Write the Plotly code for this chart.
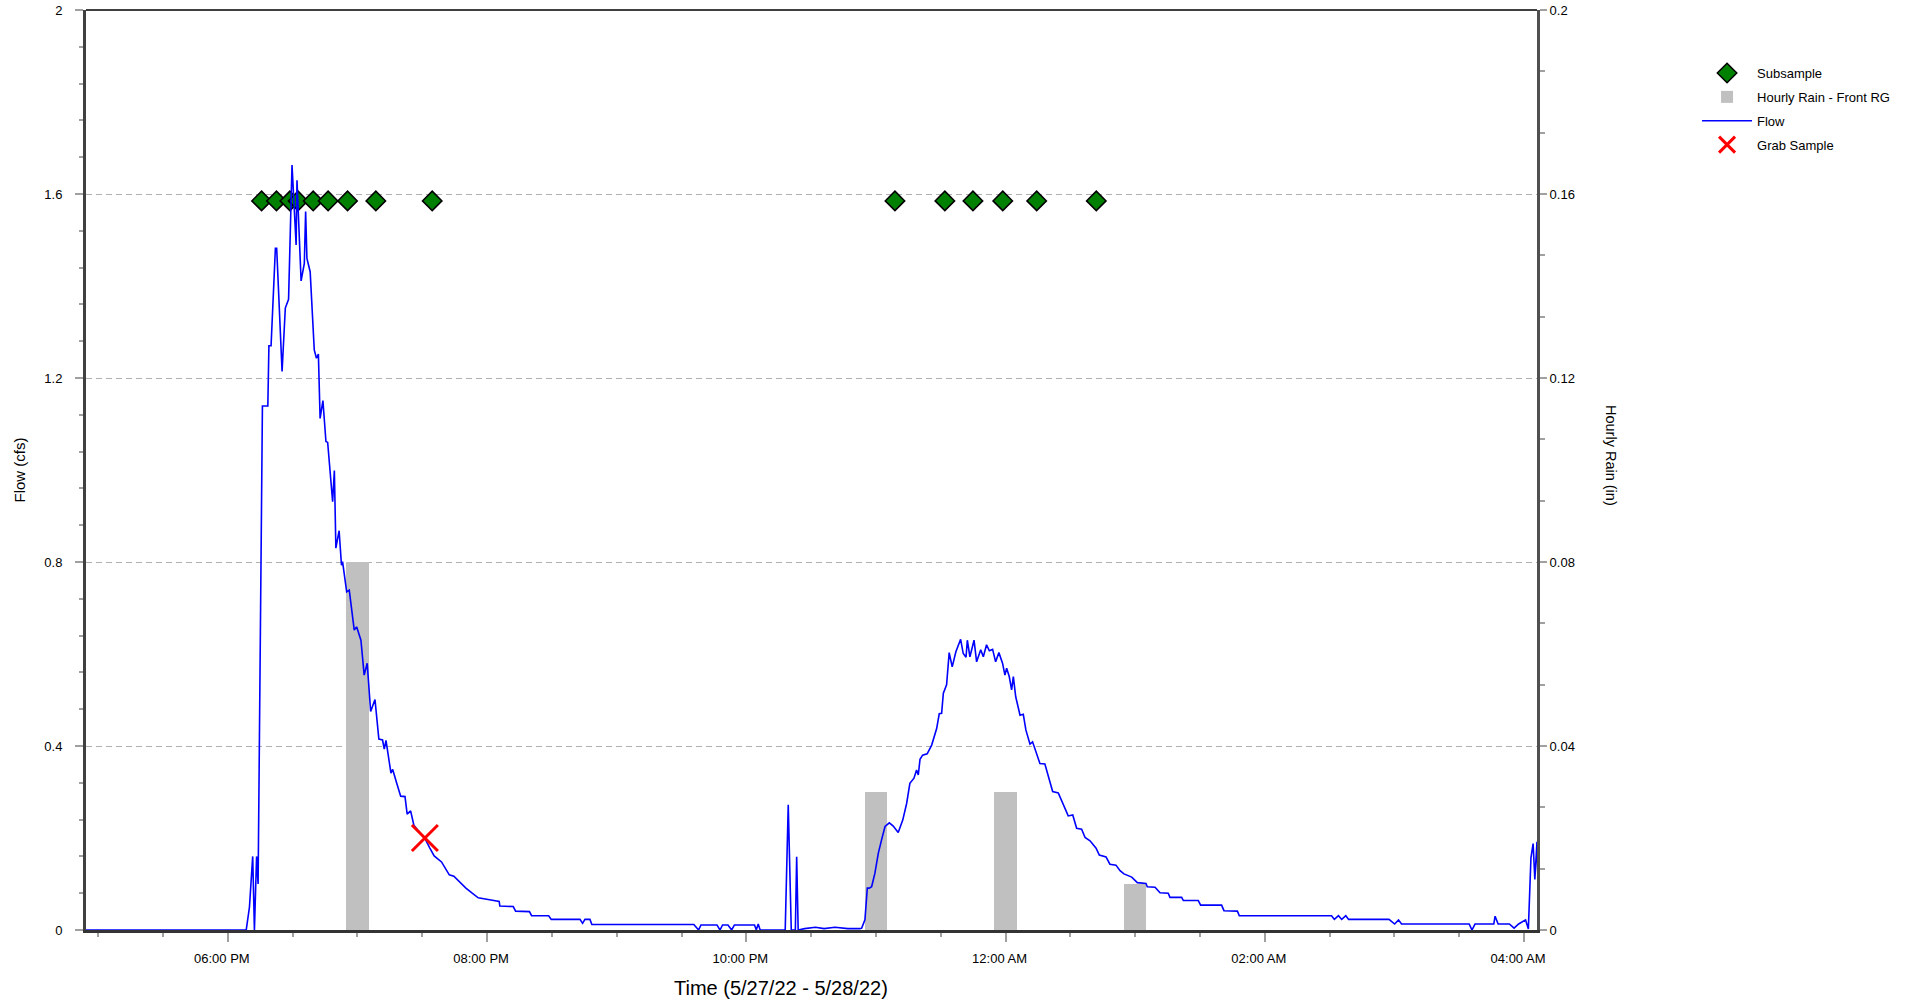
import pandas as pd
import plotly.graph_objects as go

# ---------------- data ----------------
origin = pd.Timestamp("2022-05-27 18:00")

# Flow (cfs) : minutes after 5/27/22 6:00 PM, flow value
flow_minutes = [
    -70, 8.5, 10, 11.5, 12.3, 13.3, 14.0, 16.0, 18.5, 19.0, 20.0, 22.0, 22.6, 25.1, 26.6, 28.1,
    29.7, 31.6, 32.0, 33.9, 35.4, 36.0, 36.6, 38.1, 40.0, 41.0, 41.9, 42.7, 44.0, 45.4, 46.2,
    48.5, 49.3, 50.0, 51.5, 52.6, 53.1, 55.0, 56.2, 58.5, 59.6, 61.6, 63.1, 64.5, 66.1, 68.1,
    69.9, 71.6, 72.4, 73.2, 75.5, 76.3, 78.1, 80.0, 82.0, 83.0, 84.6, 86.1, 88.1, 91.2, 93.5,
    95.5, 98.9, 102.5, 104.6, 107.4, 110.2, 112.8, 115.9, 119.8, 125.6, 125.9, 132.1, 133.2,
    139.6, 140.6, 148.5, 149.7, 163.0, 164.2, 165.3, 167.6, 168.5, 215.7, 217.9, 219.0, 226.4,
    227.8, 229.0, 231.5, 233.2, 234.5, 243.8, 244.6, 245.5, 246.4, 258.0, 259.4, 260.8, 262.7,
    263.3, 264.0, 267.0, 272.0, 276.0, 281.0, 287.0, 292.6, 293.4, 294.9, 296.0, 296.9, 298.0,
    299.5, 301.1, 302.6, 304.2, 306.2, 308.0, 310.3, 312.4, 314.2, 315.7, 317.6, 318.8, 319.6,
    320.4, 321.6, 323.7, 325.8, 328.1, 329.3, 330.4, 331.2, 332.7, 333.9, 335.3, 337.0, 339.2,
    340.4, 341.7, 342.3, 343.5, 345.4, 346.6, 348.5, 349.7, 351.2, 352.5, 354.0, 355.4, 356.9,
    358.6, 359.7, 360.5, 361.7, 362.8, 363.6, 364.7, 366.7, 368.2, 369.4, 371.3, 372.5, 374.4,
    375.9, 378.2, 379.8, 381.8, 384.4, 386.7, 389.0, 391.1, 392.9, 395.2, 396.8, 399.1, 401.9,
    403.4, 406.5, 408.3, 411.1, 413.0, 414.8, 418.4, 421.0, 425.0, 425.6, 429.2, 431.5, 435.3,
    436.1, 441.5, 442.3, 449.2, 450.3, 460.0, 461.1, 467.3, 468.2, 510.9, 512.2, 514.1, 515.6,
    517.5, 518.8, 537.5, 540.1, 541.9, 543.3, 574.6, 575.9, 577.3, 586.0, 586.6, 588.0, 593.2,
    595.4, 597.5, 600.7, 602.0, 603.2, 604.2, 605.0, 606.0, 607.0,
]
flow_cfs = [
    0.0, 0.0, 0.05, 0.16, 0.0, 0.16, 0.10, 1.139, 1.139, 1.27, 1.27, 1.482, 1.482, 1.214, 1.352, 1.371,
    1.663, 1.489, 1.630, 1.411, 1.449, 1.562, 1.460, 1.431, 1.261, 1.243, 1.252, 1.112, 1.151, 1.062, 1.060,
    0.931, 0.999, 0.830, 0.868, 0.793, 0.801, 0.735, 0.739, 0.652, 0.659, 0.630, 0.554, 0.580, 0.475, 0.501,
    0.415, 0.413, 0.393, 0.412, 0.341, 0.349, 0.320, 0.291, 0.290, 0.252, 0.259, 0.228, 0.216, 0.199, 0.178,
    0.161, 0.148, 0.120, 0.117, 0.103, 0.091, 0.081, 0.070, 0.067, 0.062, 0.052, 0.051, 0.041,
    0.040, 0.031, 0.031, 0.023, 0.023, 0.0145, 0.023, 0.023, 0.012, 0.012, 0.0, 0.011, 0.011,
    0.0, 0.011, 0.011, 0.0, 0.011, 0.011, 0.0, 0.013, 0.0, 0.0, 0.272, 0.0, 0.0,
    0.159, 0.0, 0.003, 0.006, 0.003, 0.006, 0.003, 0.003, 0.004, 0.022, 0.091, 0.091, 0.094,
    0.123, 0.167, 0.196, 0.225, 0.233, 0.226, 0.212, 0.239, 0.275, 0.319, 0.330, 0.348, 0.337,
    0.371, 0.380, 0.383, 0.402, 0.438, 0.470, 0.471, 0.515, 0.533, 0.603, 0.572, 0.605, 0.632,
    0.601, 0.593, 0.630, 0.594, 0.630, 0.583, 0.609, 0.594, 0.620, 0.607, 0.610, 0.583, 0.603,
    0.580, 0.554, 0.569, 0.551, 0.522, 0.551, 0.507, 0.467, 0.469, 0.435, 0.404, 0.409, 0.380,
    0.362, 0.361, 0.333, 0.301, 0.298, 0.272, 0.248, 0.250, 0.221, 0.219, 0.201, 0.194, 0.178,
    0.163, 0.159, 0.143, 0.141, 0.129, 0.122, 0.115, 0.103, 0.101, 0.094, 0.093, 0.081, 0.080,
    0.071, 0.071, 0.064, 0.064, 0.054, 0.054, 0.042, 0.041, 0.031, 0.031, 0.023, 0.031, 0.023,
    0.031, 0.023, 0.023, 0.013, 0.022, 0.013, 0.013, 0.0, 0.013, 0.013, 0.030, 0.013, 0.013,
    0.004, 0.013, 0.022, 0.002, 0.157, 0.188, 0.110, 0.192, 0.0,
]

# Hourly rain (in)
rain_times = ["2022-05-27 19:00", "2022-05-27 23:00", "2022-05-28 00:00", "2022-05-28 01:00"]
rain_in = [0.08, 0.03, 0.03, 0.01]

# Subsamples (minutes after 6:00 PM)
subsample_minutes = [15.6, 22.5, 28.7, 32.5, 39.5, 46.4, 55.4, 68.5, 94.6,
                     308.8, 331.9, 344.9, 358.7, 374.4, 402.0]
subsample_flow = [1.585] * len(subsample_minutes)

# Grab sample
grab_minutes = [91.2]
grab_flow = [0.2]

x_start = "2022-05-27 16:54:20"
x_end = "2022-05-28 04:06:00"

# ---------------- figure ----------------
def to_time(mins):
    return [origin + pd.Timedelta(minutes=m) for m in mins]

fig = go.Figure()

fig.add_trace(go.Scatter(
    x=to_time(subsample_minutes), y=subsample_flow, mode="markers", name="Subsample",
    yaxis="y2", legendgroup="a",
    marker=dict(symbol="diamond", size=15, color="#008000", line=dict(color="black", width=1.5)),
))
fig.add_trace(go.Bar(
    x=pd.to_datetime(rain_times), y=rain_in, name="Hourly Rain - Front RG", yaxis="y",
    legendgroup="b", width=10.4 * 60 * 1000, marker=dict(color="#C0C0C0", line=dict(width=0)),
))
fig.add_trace(go.Scatter(
    x=to_time(flow_minutes), y=flow_cfs, mode="lines", name="Flow", yaxis="y2",
    legendgroup="c", line=dict(color="#0000FF", width=1.6),
))
fig.add_trace(go.Scatter(
    x=to_time(grab_minutes), y=grab_flow, mode="markers", name="Grab Sample", yaxis="y2",
    legendgroup="d",
    marker=dict(symbol="x-thin", size=26, line=dict(color="#FF0000", width=3)),
))

font_family = "Liberation Sans, Arial, sans-serif"
tick_font = dict(family=font_family, size=13, color="black")

fig.update_layout(
    width=1907, height=1004,
    margin=dict(l=86, r=370, t=10, b=74, autoexpand=False),
    paper_bgcolor="white", plot_bgcolor="white",
    font=dict(family=font_family, size=13, color="black"),
    showlegend=True,
    legend=dict(x=1.1103, y=0.9478, xanchor="left", yanchor="top", itemwidth=50,
                bgcolor="rgba(0,0,0,0)", borderwidth=0, font=dict(size=13),
                traceorder="grouped", tracegroupgap=4),
    bargap=0,
    xaxis=dict(
        type="date", range=[x_start, x_end], automargin=False,
        tick0="2022-05-27 18:00", dtick=2 * 3600 * 1000, tickformat="%I:%M %p",
        ticks="outside", ticklen=9, tickcolor="#A0A0A0", tickwidth=1.5,
        minor=dict(dtick=30 * 60 * 1000, tick0="2022-05-27 18:00", ticks="outside",
                   ticklen=4, tickcolor="#A0A0A0", tickwidth=1.5),
        showline=True, linecolor="#333333", linewidth=3,
        showgrid=False, zeroline=False, tickfont=tick_font, ticklabelstandoff=5,
        ticklabelshift=-6, ticklabeloverflow="allow",
    ),
    yaxis=dict(
        side="right", range=[0, 0.2], tick0=0, dtick=0.04, automargin=False,
        ticks="outside", ticklen=7, tickcolor="#A0A0A0", tickwidth=1.5,
        minor=dict(dtick=0.04 / 3, tick0=0, ticks="outside", ticklen=5,
                   tickcolor="#A0A0A0", tickwidth=1.5),
        showline=True, linecolor="#505050", linewidth=3,
        showgrid=True, gridcolor="#B0B0B0", griddash="6px,4px", gridwidth=1.3,
        zeroline=False, tickfont=tick_font, ticklabeloverflow="allow",
    ),
    yaxis2=dict(
        overlaying="y", side="left", range=[0, 2], tick0=0, dtick=0.4, automargin=False,
        ticks="outside", ticklen=8, tickcolor="#A0A0A0", tickwidth=1.5,
        minor=dict(dtick=0.08, tick0=0, ticks="outside", ticklen=4.5,
                   tickcolor="#A0A0A0", tickwidth=1.5),
        showline=True, linecolor="#404040", linewidth=3,
        showgrid=False, zeroline=False, tickfont=tick_font, ticklabelstandoff=10,
        ticklabeloverflow="allow",
        title=dict(text="Flow (cfs)", font=dict(family=font_family, size=15), standoff=16),
    ),
    shapes=[dict(type="line", xref="paper", yref="paper", x0=0, x1=1, y0=1, y1=1,
                 line=dict(color="black", width=1.5))],
    annotations=[
        dict(text="Hourly Rain (in)", xref="paper", yref="paper",
             x=1.0515, y=0.5155, xanchor="center", yanchor="middle",
             textangle=90, showarrow=False,
             font=dict(family=font_family, size=14.5, color="black")),
        dict(text="Time (5/27/22 - 5/28/22)", xref="paper", yref="paper",
             x=0.479, y=-0.063, xanchor="center", yanchor="middle", showarrow=False,
             font=dict(family=font_family, size=20, color="black")),
    ],
)

fig.write_html(
    "out.html",
    config={"displayModeBar": False},
    post_script="document.body.style.margin='0';document.body.style.overflow='hidden';",
)
